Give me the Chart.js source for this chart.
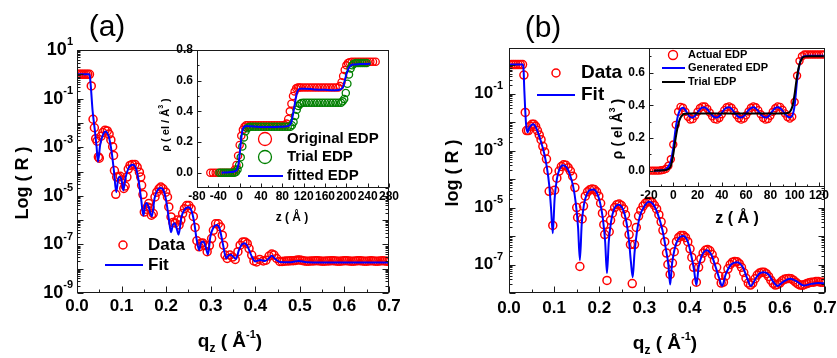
<!DOCTYPE html>
<html>
<head>
<meta charset="utf-8">
<title>Reflectivity fits</title>
<script src="https://cdn.jsdelivr.net/npm/chart.js@4.4.1/dist/chart.umd.min.js"></script>
<style>
  body { margin: 0; background: #fff; }
  .box { position: absolute; }
</style>
</head>
<body>
<div class="box" style="left:0px;top:0px"><canvas id="mainA" width="418" height="358"></canvas></div>
<div class="box" style="left:418px;top:0px"><canvas id="mainB" width="419" height="358"></canvas></div>
<div class="box" style="left:140px;top:40px"><canvas id="insetA" width="260" height="200"></canvas></div>
<div class="box" style="left:590px;top:40px"><canvas id="insetB" width="247" height="200"></canvas></div>
<script>
// ---- panel (a): reflectivity data (log10 R) ----
const qA = [
  0.000, 0.004, 0.008, 0.012, 0.016, 0.020, 0.024, 0.028, 0.032, 0.036,
  0.039, 0.042, 0.045, 0.048, 0.050, 0.054, 0.058, 0.063, 0.068, 0.072,
  0.076, 0.080, 0.082, 0.084, 0.087, 0.089, 0.093, 0.097, 0.101, 0.105,
  0.108, 0.112, 0.115, 0.119, 0.124, 0.130, 0.135, 0.140, 0.143, 0.145,
  0.148, 0.151, 0.155, 0.158, 0.161, 0.164, 0.167, 0.171, 0.175, 0.179,
  0.184, 0.188, 0.193, 0.199, 0.203, 0.206, 0.211, 0.215, 0.220, 0.225,
  0.229, 0.233, 0.237, 0.241, 0.246, 0.251, 0.256, 0.261, 0.265, 0.269,
  0.274, 0.278, 0.282, 0.287, 0.292, 0.297, 0.302, 0.306, 0.311, 0.317,
  0.322, 0.326, 0.329, 0.332, 0.337, 0.343, 0.349, 0.355, 0.361, 0.366,
  0.372, 0.377, 0.382, 0.386, 0.392, 0.397, 0.403, 0.410, 0.418, 0.424,
  0.431, 0.437, 0.442, 0.448, 0.455, 0.460, 0.465, 0.470, 0.475, 0.480,
  0.485, 0.490, 0.495, 0.500, 0.505, 0.510, 0.515, 0.520, 0.525, 0.530,
  0.535, 0.540, 0.545, 0.550, 0.555, 0.560, 0.565, 0.570, 0.575, 0.580,
  0.585, 0.590, 0.595, 0.600, 0.605, 0.610, 0.615, 0.620, 0.625, 0.630,
  0.635, 0.640, 0.645, 0.650, 0.655, 0.660, 0.665, 0.670, 0.675, 0.680,
  0.685, 0.690, 0.695, 0.700
];
const logRA = [
  0, 0, 0, 0, 0, 0, 0, 0, -0.48, -1.85,
  -2.2, -2.65, -2.75, -3.4, -3.45, -2.55, -2.4, -2.3, -2.33, -2.46,
  -2.7, -2.98, -3.34, -3.96, -4.94, -4.23, -4.23, -4.2, -4.35, -4.7,
  -4.6, -4.23, -3.9, -3.75, -3.71, -3.71, -3.82, -4.03, -4.23, -4.57,
  -4.95, -5.67, -5.55, -5.46, -5.32, -5.5, -5.8, -5.73, -5.05, -4.85,
  -4.71, -4.64, -4.71, -4.85, -5.05, -5.46, -5.87, -6.1, -6.12, -6.0,
  -6.2, -6.0, -5.73, -5.53, -5.4, -5.4, -5.53, -5.85, -6.3, -6.85,
  -7.1, -6.95, -6.94, -7.05, -7.3, -7.05, -6.76, -6.42, -6.15, -6.15,
  -6.28, -6.62, -7.03, -7.44, -7.58, -7.44, -7.52, -7.62, -7.3, -7.03,
  -6.9, -6.9, -6.97, -7.17, -7.44, -7.68, -7.72, -7.62, -7.68, -7.65,
  -7.48, -7.4, -7.44, -7.58, -7.7, -7.7, -7.69, -7.68, -7.68, -7.67,
  -7.67, -7.66, -7.64, -7.64, -7.66, -7.68, -7.69, -7.69, -7.68, -7.68,
  -7.67, -7.67, -7.68, -7.69, -7.69, -7.68, -7.68, -7.67, -7.67, -7.68,
  -7.69, -7.69, -7.68, -7.67, -7.67, -7.68, -7.69, -7.69, -7.68, -7.67,
  -7.67, -7.68, -7.69, -7.69, -7.68, -7.67, -7.68, -7.69, -7.69, -7.68,
  -7.67, -7.68, -7.69, -7.69
];
const qFitA = [
  0.000, 0.027, 0.029, 0.031, 0.035, 0.040, 0.044, 0.047, 0.052, 0.058,
  0.064, 0.071, 0.077, 0.083, 0.088, 0.092, 0.096, 0.100, 0.104, 0.109,
  0.116, 0.125, 0.132, 0.138, 0.144, 0.149, 0.153, 0.156, 0.160, 0.168,
  0.174, 0.181, 0.188, 0.195, 0.201, 0.206, 0.211, 0.215, 0.219, 0.223,
  0.228, 0.234, 0.242, 0.250, 0.257, 0.263, 0.268, 0.274, 0.278, 0.283,
  0.288, 0.294, 0.299, 0.306, 0.313, 0.320, 0.327, 0.335, 0.340, 0.345,
  0.350, 0.357, 0.363, 0.370, 0.376, 0.383, 0.391, 0.400, 0.411, 0.422,
  0.430, 0.437, 0.445, 0.455, 0.480, 0.497, 0.515, 0.550, 0.600, 0.650,
  0.700
];
const logFitA = [
  0.0, 0.0, -0.1, -0.5, -1.5, -2.3, -3.0, -3.6, -2.9, -2.5,
  -2.35, -2.55, -3.1, -4.0, -4.85, -4.35, -4.22, -4.35, -4.78, -4.25,
  -3.85, -3.72, -3.85, -4.35, -5.15, -5.82, -5.38, -5.3, -5.42, -5.85,
  -5.1, -4.75, -4.68, -4.82, -5.3, -5.95, -6.5, -6.2, -6.13, -6.3,
  -6.6, -5.9, -5.55, -5.47, -5.62, -6.1, -6.75, -7.24, -6.95, -6.88,
  -7.05, -7.42, -6.7, -6.3, -6.2, -6.35, -6.95, -7.58, -7.45, -7.43,
  -7.5, -7.6, -7.25, -7.0, -6.95, -7.1, -7.45, -7.7, -7.64, -7.68,
  -7.58, -7.47, -7.6, -7.72, -7.73, -7.68, -7.73, -7.74, -7.74, -7.74,
  -7.74
];

// ---- panel (a) inset: electron density profiles ----
const zOrigA = [
  -55, -50, -45, -40, -35, -30, -25, -20, -15, -12,
  -9, -6, -3, 0, 3, 6, 9, 12, 15, 20,
  25, 30, 35, 40, 45, 50, 55, 60, 65, 70,
  75, 80, 85, 88, 91, 94, 97, 100, 103, 106,
  109, 112, 115, 120, 125, 130, 135, 140, 145, 150,
  155, 160, 165, 170, 175, 180, 185, 188, 191, 194,
  197, 200, 203, 206, 210, 215, 220, 225, 230, 235,
  240, 245, 250, 255
];
const rhoOrigA = [
  0, 0, 0, 0, 0, 0, 0, 0, 0, 0.005,
  0.02, 0.05, 0.11, 0.18, 0.24, 0.28, 0.30, 0.31, 0.31, 0.31,
  0.31, 0.31, 0.31, 0.31, 0.31, 0.31, 0.31, 0.31, 0.31, 0.31,
  0.31, 0.31, 0.31, 0.32, 0.35, 0.40, 0.45, 0.50, 0.53, 0.55,
  0.555, 0.556, 0.556, 0.556, 0.556, 0.556, 0.556, 0.556, 0.556, 0.556,
  0.556, 0.556, 0.556, 0.556, 0.556, 0.556, 0.556, 0.565, 0.59, 0.63,
  0.67, 0.70, 0.715, 0.72, 0.724, 0.724, 0.724, 0.724, 0.724, 0.724,
  0.724, 0.724, 0.724, 0.724
];
const zTrialA = [
  -38, -34, -30, -26, -22, -18, -14, -10, -7, -4,
  -1, 2, 5, 8, 11, 14, 17, 20, 25, 30,
  35, 40, 45, 50, 55, 60, 65, 70, 75, 80,
  85, 90, 95, 98, 101, 104, 107, 110, 113, 116,
  120, 125, 130, 135, 140, 145, 150, 155, 160, 165,
  170, 175, 180, 185, 190, 193, 196, 199, 202, 205,
  208, 211, 214, 218, 222, 226, 230, 234, 238
];
const rhoTrialA = [
  0, 0, 0, 0, 0, 0, 0, 0, 0.005, 0.02,
  0.05, 0.1, 0.17, 0.23, 0.27, 0.29, 0.297, 0.3, 0.3, 0.3,
  0.3, 0.3, 0.3, 0.3, 0.3, 0.3, 0.3, 0.3, 0.3, 0.3,
  0.3, 0.3, 0.3, 0.31, 0.33, 0.37, 0.41, 0.435, 0.448, 0.455,
  0.456, 0.456, 0.456, 0.456, 0.456, 0.456, 0.456, 0.456, 0.456, 0.456,
  0.456, 0.456, 0.456, 0.456, 0.456, 0.465, 0.48, 0.52, 0.58, 0.64,
  0.68, 0.70, 0.71, 0.715, 0.715, 0.715, 0.715, 0.715, 0.715
];
const zFitA = [
  -34, -20, -10, -5, -2, 0, 2, 4, 6, 9,
  13, 20, 40, 60, 80, 92, 97, 100, 103, 106,
  109, 113, 120, 140, 160, 180, 190, 194, 197, 200,
  203, 207, 212, 225, 245
];
const rhoFitA = [
  0, 0.003, 0.008, 0.02, 0.06, 0.12, 0.19, 0.25, 0.285, 0.3,
  0.305, 0.302, 0.298, 0.298, 0.3, 0.305, 0.33, 0.38, 0.44, 0.5,
  0.535, 0.548, 0.548, 0.543, 0.54, 0.538, 0.545, 0.56, 0.6, 0.64,
  0.67, 0.695, 0.705, 0.708, 0.71
];

// ---- panel (b): reflectivity data (log10 R) ----
const qB = [
  0.000, 0.005, 0.010, 0.015, 0.020, 0.025, 0.030, 0.033, 0.036, 0.039,
  0.043, 0.047, 0.051, 0.055, 0.059, 0.063, 0.067, 0.071, 0.075, 0.079,
  0.083, 0.086, 0.089, 0.097, 0.101, 0.106, 0.111, 0.116, 0.121, 0.126,
  0.131, 0.136, 0.141, 0.146, 0.150, 0.152, 0.157, 0.162, 0.165, 0.169,
  0.174, 0.179, 0.184, 0.189, 0.194, 0.199, 0.203, 0.207, 0.210, 0.212,
  0.217, 0.222, 0.225, 0.229, 0.234, 0.239, 0.244, 0.249, 0.254, 0.258,
  0.262, 0.266, 0.269, 0.273, 0.278, 0.282, 0.287, 0.292, 0.297, 0.302,
  0.307, 0.312, 0.317, 0.322, 0.327, 0.332, 0.337, 0.341, 0.345, 0.349,
  0.352, 0.357, 0.362, 0.366, 0.371, 0.376, 0.381, 0.386, 0.391, 0.396,
  0.401, 0.405, 0.409, 0.415, 0.420, 0.425, 0.430, 0.435, 0.440, 0.445,
  0.450, 0.455, 0.460, 0.465, 0.470, 0.475, 0.480, 0.485, 0.490, 0.495,
  0.500, 0.505, 0.510, 0.515, 0.520, 0.525, 0.530, 0.535, 0.540, 0.545,
  0.550, 0.555, 0.560, 0.565, 0.570, 0.575, 0.580, 0.585, 0.590, 0.595,
  0.600, 0.605, 0.610, 0.615, 0.620, 0.625, 0.630, 0.635, 0.640, 0.645,
  0.650, 0.655, 0.660, 0.665, 0.670, 0.675, 0.680, 0.685, 0.690, 0.695,
  0.700
];
const logRB = [
  0.02, 0.02, 0.02, 0.02, 0.02, 0.02, 0.02, -0.35, -1.66, -2.3,
  -2.3, -2.15, -2.08, -2.08, -2.15, -2.3, -2.45, -2.62, -2.85, -3.05,
  -3.3, -3.7, -4.43, -5.63, -4.39, -3.97, -3.72, -3.56, -3.5, -3.52,
  -3.6, -3.72, -3.9, -4.3, -5.0, -5.35, -7.07, -5.4, -4.95, -4.6,
  -4.45, -4.38, -4.35, -4.37, -4.45, -4.6, -4.85, -5.2, -5.6, -5.95,
  -7.56, -5.85, -5.45, -5.2, -5.0, -4.9, -4.88, -4.93, -5.05, -5.25,
  -5.55, -5.95, -6.3, -7.67, -6.3, -5.7, -5.3, -5.1, -4.95, -4.85,
  -4.8, -4.79, -4.82, -4.92, -5.05, -5.25, -5.5, -5.8, -6.2, -6.6,
  -7.0, -7.35, -6.95, -6.55, -6.2, -6.05, -5.98, -5.98, -6.05, -6.2,
  -6.45, -6.75, -7.1, -7.62, -7.1, -6.8, -6.6, -6.5, -6.47, -6.52,
  -6.65, -6.85, -7.1, -7.4, -7.65, -7.62, -7.4, -7.15, -7.0, -6.92,
  -6.89, -6.9, -6.97, -7.1, -7.28, -7.48, -7.65, -7.72, -7.65, -7.5,
  -7.37, -7.3, -7.27, -7.27, -7.32, -7.42, -7.55, -7.66, -7.72, -7.7,
  -7.65, -7.57, -7.52, -7.5, -7.49, -7.5, -7.55, -7.62, -7.68, -7.72,
  -7.73, -7.7, -7.67, -7.64, -7.62, -7.62, -7.6, -7.6, -7.62, -7.62,
  -7.62
];
const qFitB = [
  0.000, 0.030, 0.032, 0.034, 0.036, 0.038, 0.041, 0.045, 0.050, 0.054,
  0.060, 0.066, 0.072, 0.078, 0.084, 0.089, 0.093, 0.097, 0.101, 0.106,
  0.112, 0.120, 0.128, 0.135, 0.142, 0.148, 0.153, 0.157, 0.161, 0.166,
  0.172, 0.180, 0.187, 0.195, 0.202, 0.208, 0.213, 0.217, 0.221, 0.226,
  0.233, 0.243, 0.252, 0.260, 0.266, 0.270, 0.274, 0.278, 0.283, 0.290,
  0.300, 0.310, 0.320, 0.330, 0.340, 0.348, 0.353, 0.357, 0.361, 0.367,
  0.375, 0.386, 0.396, 0.404, 0.410, 0.415, 0.420, 0.427, 0.438, 0.448,
  0.458, 0.466, 0.472, 0.480, 0.492, 0.505, 0.518, 0.528, 0.536, 0.546,
  0.556, 0.565, 0.575, 0.585, 0.595, 0.608, 0.623, 0.638, 0.653, 0.670,
  0.685, 0.700
];
const logFitB = [
  0.02, 0.02, -0.1, -0.9, -1.6, -2.1, -2.36, -2.2, -2.1, -2.08,
  -2.2, -2.45, -2.75, -3.1, -3.6, -4.2, -5.0, -5.9, -4.7, -4.0,
  -3.65, -3.52, -3.6, -3.85, -4.25, -4.85, -5.7, -6.85, -5.6, -4.9,
  -4.55, -4.38, -4.37, -4.5, -4.85, -5.4, -6.2, -7.3, -6.2, -5.5,
  -5.05, -4.9, -5.05, -5.5, -6.2, -6.9, -7.45, -6.6, -5.9, -5.3,
  -4.95, -4.8, -4.9, -5.25, -5.8, -6.5, -7.0, -7.7, -7.0, -6.45,
  -6.1, -6.0, -6.2, -6.7, -7.2, -7.72, -7.1, -6.7, -6.5, -6.65,
  -7.1, -7.5, -7.75, -7.35, -7.0, -6.92, -7.1, -7.5, -7.75, -7.5,
  -7.3, -7.27, -7.35, -7.6, -7.75, -7.6, -7.5, -7.6, -7.74, -7.68,
  -7.65, -7.66
];

// ---- panel (b) inset: electron density profiles ----
const zActB = [
  -20, -18, -16, -14, -12, -10, -8, -6, -4, -2,
  0, 2, 4, 6, 8, 10, 12, 14, 16, 18,
  20, 22, 24, 26, 28, 30, 32, 34, 36, 38,
  40, 42, 44, 46, 48, 50, 52, 54, 56, 58,
  60, 62, 64, 66, 68, 70, 72, 74, 76, 78,
  80, 82, 84, 86, 88, 90, 92, 94, 96, 98,
  100, 102, 104, 106, 108, 110, 112, 114, 116, 118,
  120, 122, 124
];
const rhoActB = [
  0, 0, 0, 0, 0, 0.002, 0.005, 0.012, 0.03, 0.07,
  0.16, 0.28, 0.36, 0.39, 0.385, 0.36, 0.33, 0.313, 0.315, 0.335,
  0.36, 0.383, 0.393, 0.392, 0.378, 0.355, 0.332, 0.315, 0.312, 0.322,
  0.345, 0.37, 0.388, 0.393, 0.385, 0.365, 0.34, 0.32, 0.312, 0.318,
  0.338, 0.362, 0.385, 0.393, 0.388, 0.37, 0.345, 0.322, 0.312, 0.316,
  0.335, 0.36, 0.382, 0.393, 0.39, 0.372, 0.35, 0.328, 0.318, 0.33,
  0.42, 0.58, 0.67, 0.70, 0.71, 0.71, 0.71, 0.71, 0.71, 0.71,
  0.71, 0.71, 0.71
];
const zGenB = [
  -16, -14, -12, -10, -8, -6, -4, -2, 0, 2,
  4, 6, 8, 10, 12, 14, 16, 18, 20, 22,
  24, 26, 28, 30, 32, 34, 36, 38, 40, 42,
  44, 46, 48, 50, 52, 54, 56, 58, 60, 62,
  64, 66, 68, 70, 72, 74, 76, 78, 80, 82,
  84, 86, 88, 90, 92, 94, 96, 98, 100, 102,
  104, 106, 108, 110, 112, 114, 116, 118, 120, 122,
  124
];
const rhoGenB = [
  0, 0, 0.001, 0.002, 0.004, 0.01, 0.025, 0.06, 0.14, 0.26,
  0.34, 0.375, 0.385, 0.37, 0.345, 0.328, 0.325, 0.336, 0.357, 0.376,
  0.386, 0.386, 0.375, 0.356, 0.337, 0.326, 0.325, 0.334, 0.353, 0.373,
  0.385, 0.387, 0.378, 0.36, 0.34, 0.328, 0.325, 0.332, 0.35, 0.37,
  0.383, 0.387, 0.38, 0.364, 0.344, 0.33, 0.325, 0.33, 0.347, 0.367,
  0.382, 0.387, 0.382, 0.367, 0.347, 0.332, 0.326, 0.335, 0.40, 0.55,
  0.65, 0.69, 0.70, 0.703, 0.703, 0.703, 0.703, 0.703, 0.703, 0.703,
  0.703
];
const zTrialB = [
  -16, -8, -4, -2, 0, 2, 4, 6, 8, 10,
  14, 30, 50, 70, 90, 94, 96, 98, 100, 102,
  104, 106, 108, 112, 124
];
const rhoTrialB = [
  0, 0.002, 0.01, 0.03, 0.1, 0.2, 0.28, 0.325, 0.343, 0.348,
  0.35, 0.35, 0.35, 0.35, 0.35, 0.352, 0.36, 0.39, 0.47, 0.58,
  0.65, 0.685, 0.697, 0.70, 0.70
];

// ---- tick labels ----
const qTicks = [0.0, 0.1, 0.2, 0.3, 0.4, 0.5, 0.6, 0.7];
const expLabelsA = [1, -1, -3, -5, -7, -9];
const expLabelsB = [-1, -3, -5, -7];
const zTicksA = [-80, -40, 0, 40, 80, 120, 160, 200, 240, 280];
const rhoTicksA = [0.0, 0.2, 0.4, 0.6, 0.8];
const zTicksB = [-20, 0, 20, 40, 60, 80, 100, 120];
const rhoTicksB = [0.0, 0.2, 0.4, 0.6];

[[qA, logRA], [qFitA, logFitA], [zOrigA, rhoOrigA], [zTrialA, rhoTrialA], [zFitA, rhoFitA],
 [qB, logRB], [qFitB, logFitB], [zActB, rhoActB], [zGenB, rhoGenB], [zTrialB, rhoTrialB]]
  .forEach((p, i) => { if (p[0].length !== p[1].length) throw new Error('length mismatch in pair ' + i + ': ' + p[0].length + ' vs ' + p[1].length); });

const FAM = '"Liberation Sans", Arial, sans-serif';
const font = (size, weight) => (weight || 'bold') + ' ' + size + 'px ' + FAM;

const mids = t => t.slice(1).map((v, i) => (v + t[i]) / 2);
function logTicks(lo, hi, max) {
  const major = [], minor = [];
  for (let d = lo; d <= hi; d++) {
    major.push(Math.pow(10, d));
    for (let k = 2; k <= 9; k++) if (d < hi && k * Math.pow(10, d) <= max) minor.push(k * Math.pow(10, d));
  }
  return { major, minor };
}

function rich(ctx, t) {
  ctx.save();
  ctx.translate(t.x, t.y);
  if (t.rot) ctx.rotate(-Math.PI / 2);
  let w = 0;
  t.parts.forEach(p => { ctx.font = font(p[1], p[3]); w += ctx.measureText(p[0]).width; });
  let x = -w / 2;
  const base = t.parts[0][1] * 0.36;
  ctx.textAlign = 'left'; ctx.textBaseline = 'alphabetic'; ctx.fillStyle = '#000';
  t.parts.forEach(p => {
    ctx.font = font(p[1], p[3]);
    ctx.fillText(p[0], x, base + (p[2] || 0));
    x += ctx.measureText(p[0]).width;
  });
  ctx.restore();
}

function powLabel(ctx, xr, y, e, size) {
  const small = Math.round(size * 0.62), s = String(e);
  ctx.font = font(small); const ew = ctx.measureText(s).width;
  ctx.font = font(size); const bw = ctx.measureText('10').width;
  ctx.textAlign = 'left'; ctx.textBaseline = 'middle';
  ctx.fillText('10', xr - ew - bw, y);
  ctx.font = font(small);
  ctx.fillText(s, xr - ew, y - size * 0.42);
}

function legendItem(ctx, k) {
  ctx.save();
  ctx.strokeStyle = k.color; ctx.lineWidth = k.lw;
  ctx.beginPath();
  if (k.r) ctx.arc(k.mx, k.y, k.r, 0, Math.PI * 2);
  else { ctx.moveTo(k.mx, k.y); ctx.lineTo(k.mx2, k.y); }
  ctx.stroke();
  ctx.fillStyle = '#000'; ctx.font = font(k.size);
  ctx.textAlign = 'left'; ctx.textBaseline = 'middle';
  ctx.fillText(k.text, k.tx, k.y);
  ctx.restore();
}

// frame, inward ticks, labels, titles and legend (titles/legend given in page px)
function frame(cfg) {
  return {
    id: 'frame',
    beforeDraw(chart) {
      if (!cfg.white) return;
      const a = chart.chartArea, ctx = chart.ctx;
      ctx.save(); ctx.fillStyle = '#fff';
      ctx.fillRect(a.left, a.top, a.right - a.left, a.bottom - a.top);
      ctx.restore();
    },
    afterDraw(chart) {
      const ctx = chart.ctx, a = chart.chartArea, sx = chart.scales.x, sy = chart.scales.y;
      const L = Math.round(a.left) + 0.5, R = Math.round(a.right) - 0.5;
      const T = Math.round(a.top) + 0.5, B = Math.round(a.bottom) - 0.5;
      ctx.save();
      ctx.strokeStyle = '#1a1a1a'; ctx.fillStyle = '#000'; ctx.lineWidth = 1;
      ctx.strokeRect(L, T, R - L, B - T);
      ctx.beginPath();
      const xt = (v, len) => { const p = Math.round(sx.getPixelForValue(v)) + 0.5; ctx.moveTo(p, B); ctx.lineTo(p, B - len); };
      const yt = (v, len) => {
        const p = Math.round(sy.getPixelForValue(v)) + 0.5;
        ctx.moveTo(L, p); ctx.lineTo(L + len, p);
        if (cfg.mirrorY) { ctx.moveTo(R, p); ctx.lineTo(R - len, p); }
      };
      cfg.xMajor.forEach(v => xt(v, cfg.tickLen));
      cfg.xMinor.forEach(v => xt(v, cfg.tickLen / 2));
      cfg.yMajor.forEach(v => yt(v, cfg.tickLen));
      cfg.yMinor.forEach(v => yt(v, cfg.tickLen / 2));
      ctx.stroke();

      ctx.textBaseline = 'middle';
      ctx.font = font(cfg.xSize); ctx.textAlign = 'center';
      cfg.xLabels.forEach(v => ctx.fillText(v.toFixed(cfg.xDec), sx.getPixelForValue(v), a.bottom + cfg.xGap));
      if (cfg.yExp) {
        cfg.yExp.forEach(e => powLabel(ctx, a.left - cfg.yGap, sy.getPixelForValue(Math.pow(10, e)), e, cfg.ySize));
      } else {
        ctx.font = font(cfg.ySize); ctx.textAlign = 'right';
        cfg.yLabels.forEach(v => ctx.fillText(v.toFixed(1), a.left - cfg.yGap, sy.getPixelForValue(v)));
      }
      ctx.translate(-cfg.ox, -cfg.oy);
      cfg.texts.forEach(t => rich(ctx, t));
      cfg.legend.forEach(k => legendItem(ctx, k));
      ctx.restore();
    }
  };
}

const pts = (xs, ys, log) => xs.map((v, i) => ({ x: v, y: log ? Math.pow(10, ys[i]) : ys[i] }));
const circles = (data, color, r, lw, order) => ({
  data, showLine: false, pointRadius: r, pointBorderWidth: lw,
  pointBorderColor: color, pointBackgroundColor: 'rgba(0,0,0,0)', order
});
const curve = (data, color, w, order) => ({
  data, showLine: true, borderColor: color, borderWidth: w, pointRadius: 0,
  cubicInterpolationMode: 'monotone', order
});

function makeChart(id, datasets, xr, yr, logY, pad, cfg) {
  return new Chart(document.getElementById(id), {
    type: 'scatter',
    data: { datasets },
    options: {
      responsive: false, animation: false, events: [],
      layout: { padding: pad },
      plugins: { legend: { display: false }, tooltip: { enabled: false } },
      scales: {
        x: { type: 'linear', min: xr[0], max: xr[1], display: false },
        y: { type: logY ? 'logarithmic' : 'linear', min: yr[0], max: yr[1], display: false }
      }
    },
    plugins: [frame(cfg)]
  });
}

const RED = '#ff0000', BLUE = '#0000ff', GREEN = '#008000', BLACK = '#000000';
const qTitle = (x, y) => ({ x, y, parts: [['q', 19], ['z', 12, 5], [' ( Å', 19], ['-1', 11, -9], [')', 19]] });
const decA = logTicks(-9, 1, 10), decB = logTicks(-8, 0, 4);

// ---- panel (a) main ----
makeChart('mainA',
  [circles(pts(qA, logRA, true), RED, 4, 1.5, 2), curve(pts(qFitA, logFitA, true), BLUE, 2, 1)],
  [0, 0.7], [1e-9, 10], true,
  { left: 77, right: 29, top: 50, bottom: 65 },
  {
    ox: 0, oy: 0, tickLen: 6, mirrorY: true,
    xMajor: qTicks, xMinor: mids(qTicks), yMajor: decA.major, yMinor: decA.minor,
    xLabels: qTicks, xDec: 1, xSize: 17, xGap: 13,
    yExp: expLabelsA, ySize: 18, yGap: 4,
    texts: [
      { x: 107, y: 25, parts: [['(a)', 30, 0, 'normal']] },
      { x: 22, y: 183, rot: true, parts: [['Log ( R )', 18]] },
      qTitle(230, 340)
    ],
    legend: [
      { r: 4, mx: 123, y: 245, color: RED, lw: 1.5, text: 'Data', tx: 148, size: 17 },
      { mx: 105, mx2: 143, y: 265, color: BLUE, lw: 2, text: 'Fit', tx: 148, size: 17 }
    ]
  });

// ---- panel (b) main ----
makeChart('mainB',
  [circles(pts(qB, logRB, true), RED, 4, 1.5, 2), curve(pts(qFitB, logFitB, true), BLUE, 2, 1)],
  [0, 0.7], [1e-8, Math.pow(10, 0.6)], true,
  { left: 91, right: 12, top: 48, bottom: 65 },
  {
    ox: 418, oy: 0, tickLen: 6, mirrorY: true,
    xMajor: qTicks, xMinor: mids(qTicks), yMajor: decB.major, yMinor: decB.minor,
    xLabels: qTicks, xDec: 1, xSize: 17, xGap: 15,
    yExp: expLabelsB, ySize: 17, yGap: 6,
    texts: [
      { x: 543, y: 26, parts: [['(b)', 30, 0, 'normal']] },
      { x: 452, y: 173, rot: true, parts: [['log ( R )', 18]] },
      qTitle(665, 342)
    ],
    legend: [
      { r: 4, mx: 556, y: 73, color: RED, lw: 1.5, text: 'Data', tx: 581, size: 19 },
      { mx: 537, mx2: 575, y: 95, color: BLUE, lw: 2, text: 'Fit', tx: 581, size: 19 }
    ]
  });

// ---- panel (a) inset ----
makeChart('insetA',
  [circles(pts(zOrigA, rhoOrigA), RED, 3.6, 1.3, 3), circles(pts(zTrialA, rhoTrialA), GREEN, 3.6, 1.3, 2),
   curve(pts(zFitA, rhoFitA), BLUE, 2, 1)],
  [-80, 280], [-0.1, 0.8], false,
  { left: 57, right: 11, top: 10, bottom: 52 },
  {
    ox: 140, oy: 40, white: true, tickLen: 4,
    xMajor: zTicksA, xMinor: mids(zTicksA), yMajor: rhoTicksA, yMinor: mids(rhoTicksA),
    xLabels: zTicksA, xDec: 0, xSize: 12, xGap: 9,
    yLabels: rhoTicksA, ySize: 12, yGap: 4,
    texts: [
      { x: 165, y: 125, rot: true, parts: [['ρ ( el / Å', 11], ['3', 7, -6], [' )', 11]] },
      { x: 292, y: 217, parts: [['z ( Å )', 12]] }
    ],
    legend: [
      { r: 6.5, mx: 265, y: 139, color: RED, lw: 1.3, text: 'Original EDP', tx: 287, size: 15 },
      { r: 6.5, mx: 265, y: 157, color: GREEN, lw: 1.3, text: 'Trial EDP', tx: 287, size: 15 },
      { mx: 248, mx2: 283, y: 176, color: BLUE, lw: 2, text: 'fitted EDP', tx: 287, size: 15 }
    ]
  });

// ---- panel (b) inset ----
makeChart('insetB',
  [circles(pts(zActB, rhoActB), RED, 3.5, 1.4, 3), curve(pts(zGenB, rhoGenB), BLUE, 2, 2),
   curve(pts(zTrialB, rhoTrialB), BLACK, 2, 1)],
  [-20, 125], [-0.1, 0.75], false,
  { left: 59, right: 12, top: 8, bottom: 53 },
  {
    ox: 590, oy: 40, white: true, tickLen: 4,
    xMajor: zTicksB, xMinor: mids(zTicksB), yMajor: rhoTicksB, yMinor: [0.1, 0.3, 0.5, 0.7],
    xLabels: zTicksB, xDec: 0, xSize: 12, xGap: 9,
    yLabels: rhoTicksB, ySize: 12, yGap: 4,
    texts: [
      { x: 617, y: 129, rot: true, parts: [['ρ ( el Å', 14], ['3', 9, -7], [' )', 14]] },
      { x: 737, y: 217, parts: [['z ( Å )', 16]] }
    ],
    legend: [
      { r: 4.5, mx: 673, y: 55, color: RED, lw: 1.4, text: 'Actual EDP', tx: 688, size: 11 },
      { mx: 662, mx2: 685, y: 68, color: BLUE, lw: 2, text: 'Generated EDP', tx: 688, size: 11 },
      { mx: 662, mx2: 685, y: 82, color: BLACK, lw: 2, text: 'Trial EDP', tx: 688, size: 11 }
    ]
  });
</script>
</body>
</html>
